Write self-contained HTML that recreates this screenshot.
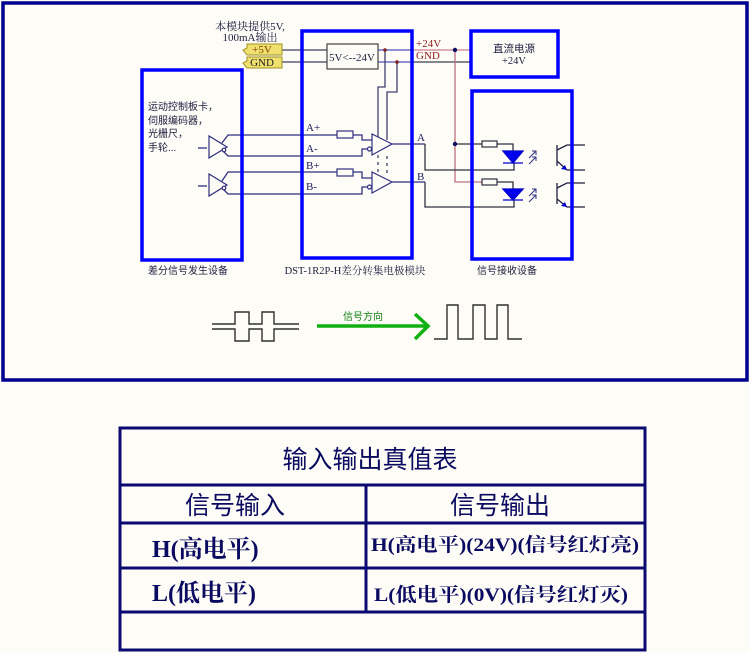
<!DOCTYPE html>
<html><head><meta charset="utf-8"><style>
html,body{margin:0;padding:0;background:#fdfcf7;}
svg{display:block;font-family:"Liberation Serif","Noto Serif CJK SC",serif;}
.s{font-family:"Liberation Sans","Noto Sans CJK SC",sans-serif;}
</style></head><body>
<svg width="750" height="653" viewBox="0 0 750 653" xmlns="http://www.w3.org/2000/svg">
<rect width="750" height="653" fill="#fdfcf7"/>
<rect x="3" y="3" width="744" height="377" fill="none" stroke="#000090" stroke-width="3.5"/>

<g fill="none" stroke-width="1.3">
<line x1="282" y1="50" x2="327" y2="50" stroke="#404060"/>
<line x1="282" y1="62" x2="327" y2="62" stroke="#404060"/>
<line x1="378" y1="50" x2="413" y2="50" stroke="#5050c0"/>
<line x1="378" y1="62" x2="413" y2="62" stroke="#5050c0"/>
<line x1="413" y1="50" x2="470" y2="50" stroke="#d08090"/>
<line x1="413" y1="62" x2="470" y2="62" stroke="#404050"/>
<polyline points="455,50 455,182 482,182" stroke="#c07080"/>
<line x1="455" y1="144" x2="482" y2="144" stroke="#303040"/>
<polyline points="385,50 385,87 378,87 378,137" stroke="#404070"/>
<polyline points="397,62 397,92 387,92 387,140" stroke="#404070"/>
<line x1="378" y1="155" x2="378" y2="172" stroke="#404070" stroke-dasharray="3,4"/>
<line x1="387" y1="156" x2="387" y2="175" stroke="#404070" stroke-dasharray="3,4"/>
<polyline points="222,143 228,135 337,135" stroke="#303080"/>
<polyline points="353,135 362,135 362,140 372,140" stroke="#303080"/>
<polyline points="222,150 228,156 362,156 362,149 367,149" stroke="#303080"/>
<line x1="392" y1="144" x2="425" y2="144" stroke="#303080"/>
<polyline points="425,144 425,170 514,170 514,163" stroke="#303040"/>
<polyline points="222,181 228,172 337,172" stroke="#303080"/>
<polyline points="353,172 362,172 362,178 372,178" stroke="#303080"/>
<polyline points="222,188 228,194 362,194 362,187 367,187" stroke="#303080"/>
<line x1="392" y1="182" x2="425" y2="182" stroke="#303080"/>
<polyline points="425,182 425,207 514,207 514,200" stroke="#303040"/>
<polyline points="497,144 513,144 513,151" stroke="#303040"/>
<polyline points="497,182 513,182 513,189" stroke="#303040"/>
</g>

<g fill="#fdfcf7" stroke="#303080" stroke-width="1.2">
<rect x="337" y="131" width="16" height="7"/>
<rect x="337" y="169" width="16" height="7"/>
<rect x="482" y="141" width="15" height="6" stroke="#303040"/>
<rect x="482" y="179" width="15" height="6" stroke="#303040"/>
</g>
<g fill="#fdfcf7" stroke="#303080" stroke-width="1.2">
<polygon points="372,134 372,155 392,144"/>
<polygon points="372,172 372,193 392,182"/>
<circle cx="369.5" cy="149" r="2"/>
<circle cx="369.5" cy="187" r="2"/>
<polygon points="209,136 209,158 227,147"/>
<polygon points="209,174 209,196 227,185"/>
<circle cx="224" cy="150" r="1.8"/>
<circle cx="224" cy="188" r="1.8"/>
</g>
<g stroke="#303080" stroke-width="1.3">
<line x1="198" y1="148" x2="207" y2="148"/>
<line x1="198" y1="186" x2="207" y2="186"/>
</g>
<g fill="#802020">
<circle cx="385" cy="50" r="1.8"/><circle cx="397" cy="62" r="1.8"/>
</g>
<g fill="#101060"><circle cx="455" cy="50" r="2.2"/><circle cx="455" cy="144" r="2.2"/></g>

<g fill="#0000ee" stroke="#0000cc" stroke-width="1.3">
<polygon points="503,151 523,151 513,163"/>
<line x1="503" y1="163" x2="523" y2="163"/>
<polygon points="503,189 523,189 513,200"/>
<line x1="503" y1="200" x2="523" y2="200"/>
</g>
<g stroke="#303080" stroke-width="1" fill="none">
<path d="M529,158 L536,151 M532,151 L536,151 L536,155"/>
<path d="M529,164 L536,157 M532,157 L536,157 L536,161"/>
<path d="M529,196 L536,189 M532,189 L536,189 L536,193"/>
<path d="M529,202 L536,195 M532,195 L536,195 L536,199"/>
</g>
<g stroke="#202040" stroke-width="1.3" fill="none">
<line x1="557" y1="145" x2="557" y2="166"/>
<polyline points="557,150 567,145 585,145"/>
<polyline points="557,161 567,170 585,170"/>
<line x1="557" y1="183" x2="557" y2="204"/>
<polyline points="557,188 567,183 585,183"/>
<polyline points="557,199 567,207 585,207"/>
</g>
<g fill="#0000cc"><polygon points="567,170 561,169 565,165"/><polygon points="567,207 561,206 565,202"/></g>

<g fill="none" stroke="#0000ff" stroke-width="3.5">
<rect x="142" y="70" width="100" height="190"/>
<rect x="302" y="31" width="110" height="227"/>
<rect x="471" y="31" width="87" height="46"/>
<rect x="472" y="91" width="100" height="168"/>
</g>
<rect x="327" y="44" width="51" height="25" fill="#fdfcf7" stroke="#404040" stroke-width="1.2"/>
<text x="352" y="61" font-size="11" text-anchor="middle" fill="#202040">5V&lt;--24V</text>

<g fill="#f0e070" stroke="#a09020" stroke-width="1">
<polygon points="247,44 282,44 282,55 247,55 243,50 247,48"/>
<polygon points="247,57 282,57 282,68 247,68 243,63 247,61"/>
</g>
<text x="262" y="53" font-size="11" text-anchor="middle" fill="#804000">+5V</text>
<text x="262" y="66" font-size="11" text-anchor="middle" fill="#202020">GND</text>
<text x="250" y="30" font-size="11" text-anchor="middle" fill="#202040">本模块提供5V,</text>
<text x="250" y="41" font-size="11" text-anchor="middle" fill="#202040">100mA输出</text>
<text x="416" y="47" font-size="11" fill="#902020">+24V</text>
<text x="416" y="59" font-size="11" fill="#902020">GND</text>
<text x="514" y="52" font-size="10.5" text-anchor="middle" fill="#202040" class="s">直流电源</text>
<text x="514" y="64" font-size="10.5" text-anchor="middle" fill="#202040">+24V</text>

<g class="s" font-size="10" fill="#202040">
<text x="148" y="110">运动控制板卡，</text>
<text x="148" y="124">伺服编码器，</text>
<text x="148" y="137">光栅尺，</text>
<text x="148" y="151">手轮...</text>
<text x="148" y="274">差分信号发生设备</text>
<text x="477" y="274">信号接收设备</text>
</g>
<text x="355" y="274" font-size="10.5" text-anchor="middle" fill="#202040">DST-1R2P-H差分转集电极模块</text>
<g font-size="11" fill="#202060">
<text x="306" y="131">A+</text><text x="306" y="152">A-</text>
<text x="306" y="169">B+</text><text x="306" y="190">B-</text>
<text x="417" y="141">A</text><text x="417" y="180">B</text>
</g>

<g fill="none" stroke="#303030" stroke-width="1.4">
<polyline points="212,324 235,324 235,312 249,312 249,324 262,324 262,312 274,312 274,324 299,324"/>
<polyline points="212,329 235,329 235,341 249,341 249,329 262,329 262,341 274,341 274,329 299,329"/>
<polyline points="434,339 447,339 447,305 458,305 458,339 473,339 473,305 485,305 485,339 497,339 497,305 508,305 508,339 522,339"/>
</g>
<g stroke="#10b010" stroke-width="3.5" fill="none">
<line x1="317" y1="326" x2="426" y2="326"/>
<polyline points="415,314 428,326 415,339"/>
</g>
<text x="343" y="320" font-size="10" fill="#108010" class="s">信号方向</text>

<g fill="none" stroke="#0a0a70" stroke-width="3">
<rect x="120" y="428" width="525" height="222"/>
<line x1="120" y1="485" x2="645" y2="485"/>
<line x1="120" y1="523" x2="645" y2="523"/>
<line x1="120" y1="568" x2="645" y2="568"/>
<line x1="120" y1="612" x2="645" y2="612"/>
<line x1="366" y1="485" x2="366" y2="612"/>
</g>
<g fill="#0a0a60" font-weight="bold">
<text x="370" y="468" font-size="25" text-anchor="middle" font-weight="normal" class="s">输入输出真值表</text>
<text x="235" y="514" font-size="25" text-anchor="middle" font-weight="normal" class="s">信号输入</text>
<text x="500" y="514" font-size="25" text-anchor="middle" font-weight="normal" class="s">信号输出</text>
<text x="152" y="557" font-size="24">H(高电平)</text>
<text x="152" y="601" font-size="24">L(低电平)</text>
<text x="371" y="551" font-size="19" textLength="268" lengthAdjust="spacingAndGlyphs">H(高电平)(24V)(信号红灯亮)</text>
<text x="374" y="601" font-size="19" textLength="254" lengthAdjust="spacingAndGlyphs">L(低电平)(0V)(信号红灯灭)</text>
</g>
</svg>
</body></html>
